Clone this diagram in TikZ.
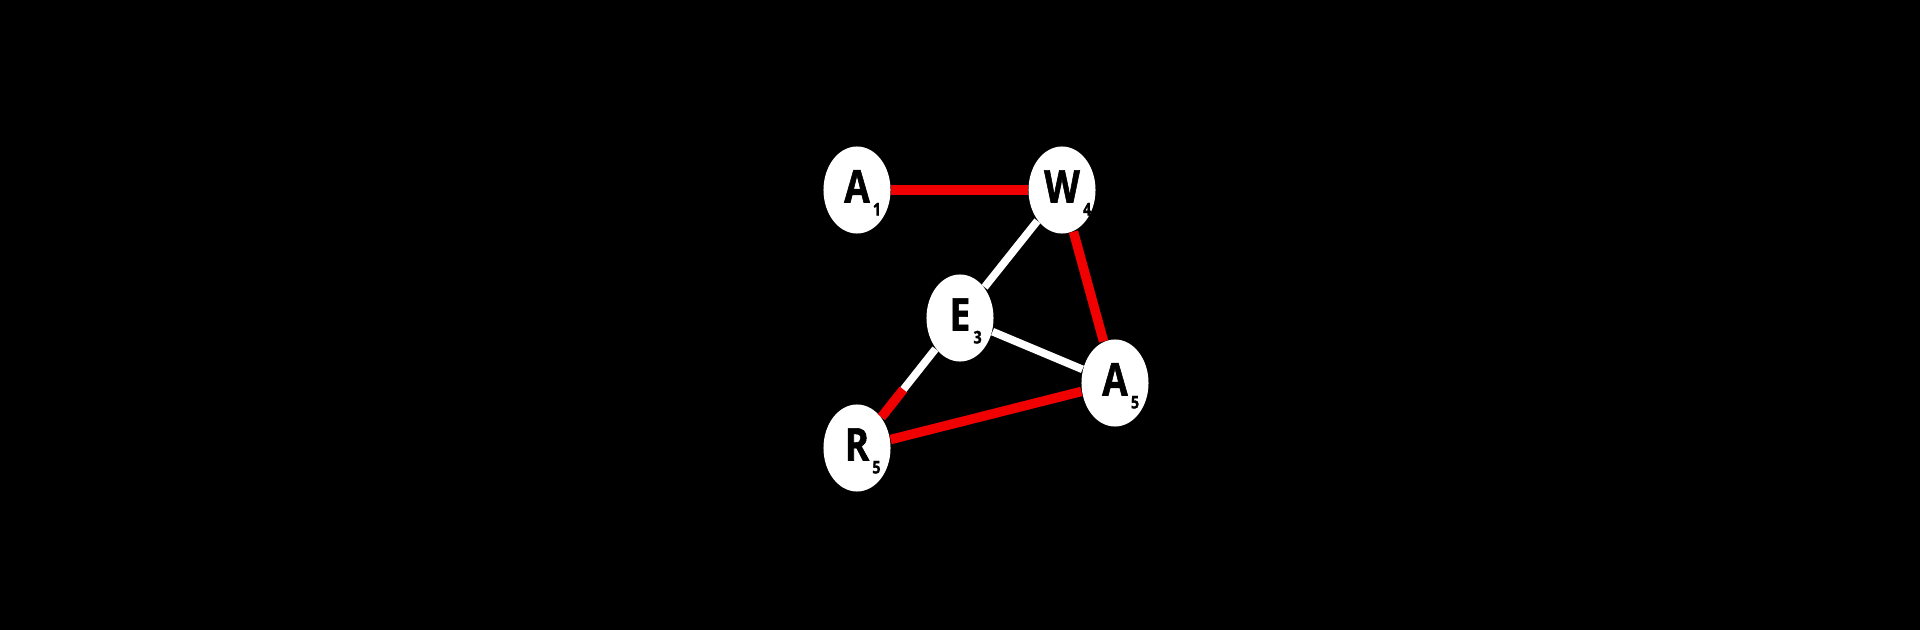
\documentclass[tikz,border=0pt]{standalone}
\usepackage{fontspec}
\newfontfamily\vfont[FakeStretch=0.82,BoldFeatures={FakeBold=1.2}]{Open Sans}
\usetikzlibrary{shapes.geometric,calc}
\newcommand{\vx}[2]{\textbf{#1}\rlap{\kern0.9pt\raisebox{-3.7pt}{\fontsize{5pt}{6pt}\selectfont\bfseries #2}}}
\begin{document}
\begin{tikzpicture}[x=0.01cm,y=-0.01cm,
  vert/.style={ellipse,fill=white,draw=none,minimum width=0.67cm,minimum height=0.87cm,inner sep=0pt,
    font=\vfont\fontsize{12.8pt}{13pt}\selectfont\bfseries,text=black,text height=9.1pt,text depth=2pt},
  redline/.style={draw={rgb,255:red,240;green,0;blue,0},line width=2.7pt},
  whiteline/.style={draw=white,line width=2.2pt}]
\fill[black] (0,0) rectangle (1920,630);
\useasboundingbox (0,0) rectangle (1920,630);
\node[vert] (A1) at (857,190) {\vx{A}{1}};
\node[vert] (W4) at (1062,190) {\vx{W}{4}};
\node[vert] (E3) at (960,318) {\vx{E}{3}};
\node[vert] (A5) at (1115,383) {\vx{A}{5}};
\node[vert] (R5) at (857,448) {\vx{R}{5}};
\draw[redline] (A1) -- (W4);
\draw[redline] (W4) -- (A5);
\draw[whiteline] (W4) -- (E3);
\draw[whiteline] (E3) -- (A5);
\draw[redline] (R5) -- (A5);
\draw[whiteline] (E3) -- (R5);
\draw[redline] (R5) -- ($(R5.center)!0.45!(E3.center)$);
\end{tikzpicture}
\end{document}
